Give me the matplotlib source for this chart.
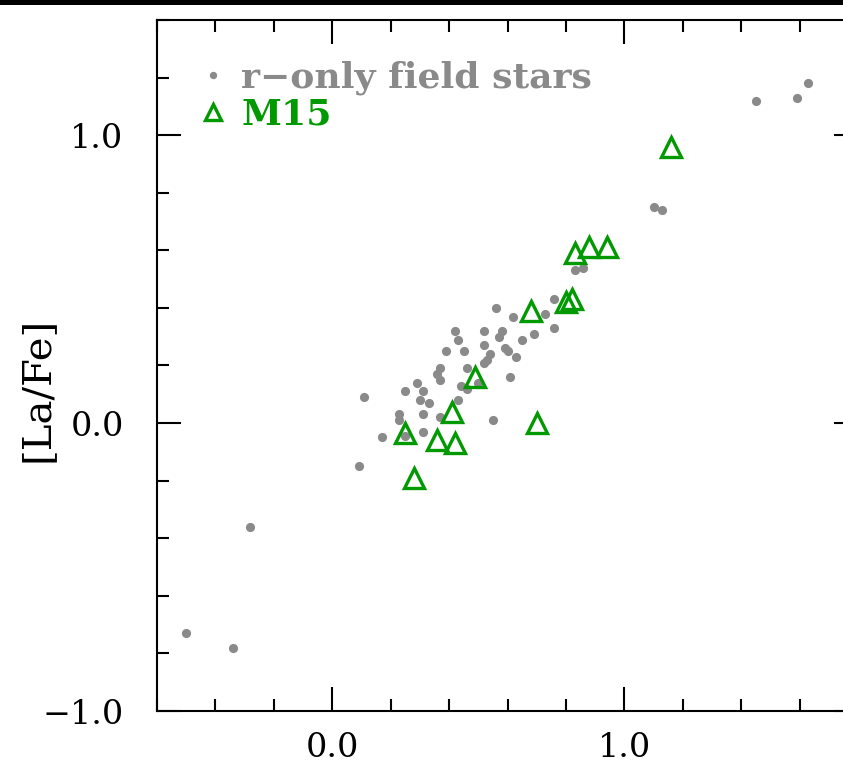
import matplotlib
matplotlib.use("Agg")
import matplotlib.pyplot as plt
from matplotlib.patches import Rectangle
from matplotlib.ticker import MultipleLocator, FuncFormatter

# r-only field stars: x vs [La/Fe]
field_x = [-0.50, -0.34, -0.28, 0.09, 0.11, 0.17, 0.23, 0.23, 0.25, 0.25,
           0.29, 0.31, 0.30, 0.33, 0.31, 0.31, 0.37, 0.36, 0.37, 0.39,
           0.42, 0.43, 0.37, 0.44, 0.43, 0.45, 0.46, 0.46, 0.52, 0.52,
           0.56, 0.58, 0.57, 0.59, 0.60, 0.54, 0.53, 0.52, 0.50, 0.61,
           0.63, 0.62, 0.65, 0.69, 0.73, 0.76, 0.76, 0.55, 0.83, 0.86,
           1.10, 1.13, 1.45, 1.59, 1.63]
field_y = [-0.73, -0.78, -0.36, -0.15, 0.09, -0.05, 0.03, 0.01, -0.045, 0.11,
           0.14, 0.11, 0.08, 0.07, 0.03, -0.03, 0.19, 0.17, 0.15, 0.25,
           0.32, 0.29, 0.02, 0.13, 0.08, 0.25, 0.19, 0.12, 0.32, 0.27,
           0.40, 0.32, 0.30, 0.26, 0.25, 0.24, 0.22, 0.21, 0.14, 0.16,
           0.23, 0.37, 0.29, 0.31, 0.38, 0.43, 0.33, 0.01, 0.53, 0.54,
           0.75, 0.74, 1.12, 1.13, 1.18]

# M15 giants
m15_x = [0.25, 0.28, 0.36, 0.42, 0.41, 0.49, 0.70, 0.68, 0.80, 0.82,
         0.83, 0.88, 0.94, 1.16]
m15_y = [-0.035, -0.19, -0.06, -0.07, 0.04, 0.16, 0.00, 0.39, 0.42, 0.43,
         0.59, 0.61, 0.61, 0.96]

GRAY = "#8a8a8a"
GREEN = "#009a00"

fig = plt.figure(figsize=(8.43, 7.65), dpi=100)
ax = fig.add_axes([157 / 843, 54 / 765, 701 / 843, 691 / 765])

ax.plot(field_x, field_y, "o", ms=6.6, color=GRAY, mec="none",
        label="r\u2212only field stars")
ax.plot(m15_x, m15_y, "^", ms=15, mfc="none", mec=GREEN, mew=2.4,
        label="M15")

ax.set_xlim(-0.6, 1.8)
ax.set_ylim(-1.0, 1.4)

fmt = FuncFormatter(lambda v, p: f"{v:.1f}".replace("-", "\u2212"))
for axis in (ax.xaxis, ax.yaxis):
    axis.set_major_locator(MultipleLocator(1.0))
    axis.set_minor_locator(MultipleLocator(0.2))
    axis.set_major_formatter(fmt)

ax.tick_params(which="both", direction="in", top=True, right=True,
               width=1.5, labelsize=24)
ax.tick_params(which="major", length=17)
ax.tick_params(which="minor", length=8.5)
ax.tick_params(axis="x", pad=15)
ax.tick_params(axis="y", pad=24)
for lbl in ax.get_xticklabels() + ax.get_yticklabels():
    lbl.set_family("DejaVu Serif")
for s in ax.spines.values():
    s.set_linewidth(1.5)

ax.set_ylabel("[La/Fe]", fontsize=29, family="DejaVu Serif")
ax.yaxis.set_label_coords(-0.145, 0.465)

leg = ax.legend(loc="upper left", bbox_to_anchor=(0.04, 0.962),
                frameon=False, numpoints=1, borderaxespad=0,
                prop={"family": "DejaVu Serif", "weight": "bold", "size": 26},
                handlelength=0.75, handletextpad=0.4, labelspacing=0.06,
                markerscale=0.8)
for txt, c in zip(leg.get_texts(), [GRAY, GREEN]):
    txt.set_color(c)

fig.add_artist(Rectangle((0, 1 - 5 / 765), 1, 5 / 765, transform=fig.transFigure,
                         color="black", lw=0))

fig.savefig("out.png", dpi=100)
